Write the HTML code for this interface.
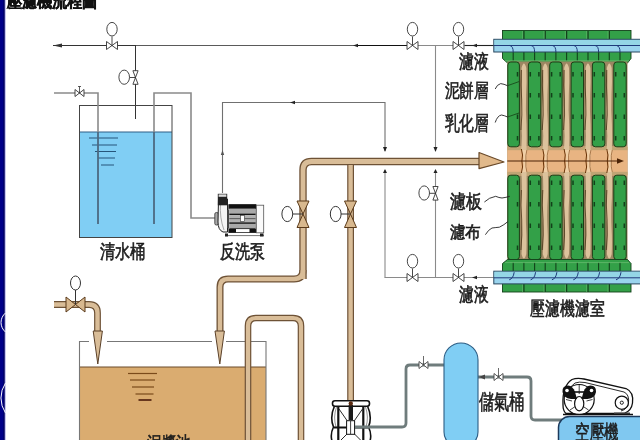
<!DOCTYPE html>
<html><head><meta charset="utf-8">
<style>
html,body{margin:0;padding:0;background:#fff;}
body{width:640px;height:440px;overflow:hidden;position:relative;font-family:"Liberation Sans",sans-serif;}
svg{position:absolute;left:0;top:0;filter:blur(0.3px);}
text{font-family:"Liberation Sans",sans-serif;fill:#1e1e1e;}
</style></head><body>
<svg width="640" height="440" viewBox="0 0 640 440">
<defs>
  <g id="vh"><!-- horizontal line valve, centered at 0,0 -->
    <path d="M-5.5,-4 L5.5,4 L5.5,-4 L-5.5,4 Z" fill="#fff" stroke="#333" stroke-width="0.9"/>
    <line x1="0" y1="0" x2="0" y2="-9" stroke="#333" stroke-width="0.9"/>
    <ellipse cx="0" cy="-16.3" rx="5.2" ry="6.8" fill="#fff" stroke="#333" stroke-width="0.9"/>
  </g>
  <g id="vv"><!-- vertical line valve, centered at 0,0, handwheel to left -->
    <path d="M-2.6,-6.8 L2.6,-6.8 L-2.6,6.8 L2.6,6.8 Z" fill="#fff" stroke="#333" stroke-width="0.9"/>
    <line x1="0" y1="0" x2="-6" y2="0" stroke="#333" stroke-width="0.9"/>
    <ellipse cx="-11.3" cy="-0.3" rx="5.3" ry="7.1" fill="#fff" stroke="#333" stroke-width="0.9"/>
  </g>
</defs>

<!-- left navy bar -->
<rect x="0" y="0" width="4.8" height="440" fill="#000088"/>
<rect x="3.4" y="0" width="1.4" height="440" fill="#00005e"/>
<rect x="4.8" y="0" width="1.2" height="440" fill="#c8c8f0"/>
<path d="M5.5,313 A12.3,12.3 0 0 0 5.5,332" fill="none" stroke="#fff" stroke-width="1"/>
<path d="M5.5,383 A27,27 0 0 0 5.5,413" fill="none" stroke="#fff" stroke-width="1"/>

<!-- title -->
<text x="6.5" y="6.6" font-size="15.5" font-weight="bold" textLength="91" lengthAdjust="spacingAndGlyphs" fill="#111" stroke="#111" stroke-width="0.5">壓濾機流程圖</text>

<!-- ===== thin lines ===== -->
<g fill="none" stroke="#1a1a1a" stroke-width="1">
  <line x1="53" y1="45.5" x2="136" y2="45.5" stroke="#333"/>
  <line x1="136" y1="45.5" x2="355" y2="45.5" stroke="#5a5a5a"/>
  <line x1="355" y1="45.5" x2="408" y2="45.5" stroke="#111"/>
  <line x1="135.5" y1="45.5" x2="135.5" y2="119" stroke="#333"/>
</g>
<g fill="none" stroke="#8a8a8a" stroke-width="1.1">
  <line x1="408" y1="45.5" x2="465" y2="45.5"/>
  <line x1="465" y1="45.5" x2="495" y2="45.5" stroke="#222"/>
  <polyline points="222.5,193 222.5,102.5 385,102.5 385,151" stroke="#707070"/>
  <line x1="435.5" y1="45.5" x2="435.5" y2="151"/>
  <line x1="385" y1="170" x2="385" y2="277.5"/>
  <line x1="435.5" y1="170" x2="435.5" y2="277.5"/>
  <line x1="384.5" y1="277.5" x2="495" y2="277.5"/>
</g>
<path d="M53,45.5 L62,43.5 L62,47.5 Z" fill="#333"/>

<use href="#vh" x="112" y="45.5"/>
<use href="#vh" x="412.5" y="45.5"/>
<use href="#vh" x="458.5" y="45.5"/>
<use href="#vh" x="412.5" y="277.5"/>
<use href="#vh" x="458.5" y="277.5"/>
<use href="#vv" x="135.5" y="77.5"/>
<use href="#vv" x="435.5" y="193.3"/>

<!-- ===== clear water tank ===== -->
<rect x="79.5" y="132" width="92.5" height="105.5" fill="#80cef4"/>
<line x1="79.5" y1="132" x2="172" y2="132" stroke="#2f5f86" stroke-width="1"/>
<rect x="79.5" y="105.5" width="92.5" height="132" fill="none" stroke="#444" stroke-width="1"/>
<g stroke="#26557a" stroke-width="1">
  <line x1="89" y1="138" x2="118" y2="138"/>
  <line x1="92" y1="145" x2="117" y2="145"/>
  <line x1="95" y1="151.5" x2="116" y2="151.5"/>
  <line x1="98" y1="158" x2="115" y2="158"/>
  <line x1="101" y1="165" x2="114" y2="165"/>
</g>
<!-- pipes into tank -->
<g fill="none" stroke="#8a8a8a" stroke-width="1.6">
  <polyline points="54,93 98,93 98,224"/>
  <polyline points="154,224 154,93 191,93 191,218 215,218"/>
</g>
<g stroke="#2c5a80" stroke-width="1.2">
  <line x1="98" y1="132" x2="98" y2="224"/>
  <line x1="154" y1="132" x2="154" y2="224"/>
</g>
<path d="M75,89.5 L84,96.5 L84,89.5 L75,96.5 Z" fill="#fff" stroke="#333" stroke-width="0.9"/>
<line x1="79.5" y1="93" x2="79.5" y2="86.5" stroke="#333" stroke-width="0.8"/>
<line x1="78" y1="86.5" x2="81" y2="86.5" stroke="#333" stroke-width="0.8"/>


<!-- ===== backwash pump ===== -->
<g>
  <rect x="214.8" y="212.5" width="3.6" height="12.5" rx="1.5" fill="#aaa" stroke="#333" stroke-width="0.8"/>
  <path d="M218.5,199 L227.5,199 L227.5,232 L223,232 Q218,230 218,222 Z" fill="#f4f4f4" stroke="#222" stroke-width="1"/>
  <path d="M220.5,203 Q219.5,218 224,230" fill="none" stroke="#888" stroke-width="0.7"/>
  <rect x="217.8" y="193.8" width="9.4" height="11.5" fill="#222"/>
  <rect x="218.6" y="194.4" width="7.8" height="2.4" fill="#ddd"/>
  <rect x="227.5" y="210" width="2" height="18" fill="#666"/>
  <rect x="228.8" y="204.6" width="27.2" height="28" fill="#fff" stroke="#222" stroke-width="0.8"/>
  <rect x="228.8" y="204.6" width="27.2" height="4.2" fill="#111"/>
  <rect x="229.3" y="208.8" width="26.2" height="5" fill="#a9a9a9"/>
  <rect x="229.3" y="213.6" width="26.2" height="1.5" fill="#151515"/>
  <rect x="229.3" y="215.1" width="26.2" height="7.2" fill="#b0b0b0"/>
  <rect x="229.3" y="218.3" width="26.2" height="0.8" fill="#444"/>
  <rect x="229.3" y="222.3" width="26.2" height="1.6" fill="#151515"/>
  <rect x="229.3" y="223.9" width="26.2" height="4" fill="#a9a9a9"/>
  <rect x="229.3" y="227.9" width="26.2" height="1.2" fill="#444"/>
  <rect x="229" y="229" width="7" height="3.6" fill="#111"/>
  <rect x="249.5" y="229" width="6.5" height="3.6" fill="#111"/>
  <rect x="240.5" y="215.5" width="4" height="6" fill="#fff" stroke="#333" stroke-width="0.6"/>
  <rect x="256.3" y="205.2" width="7.4" height="27.6" fill="#fafafa" stroke="#555" stroke-width="0.8"/>
  <line x1="225" y1="235.6" x2="264" y2="235.6" stroke="#777" stroke-width="1"/>
  <rect x="225" y="233.5" width="3" height="3" fill="#222"/>
  <rect x="260" y="233.5" width="3.5" height="3" fill="#222"/>
</g>
<!-- ===== slurry tank ===== -->
<rect x="79.5" y="367" width="186.5" height="80" fill="#daac70"/>
<line x1="79.5" y1="367" x2="266" y2="367" stroke="#6a4a2a" stroke-width="1"/>
<g fill="none" stroke="#777" stroke-width="1.1">
  <polyline points="79.5,440 79.5,341.5 89,341.5"/>
  <line x1="107" y1="341.5" x2="212" y2="341.5"/>
  <polyline points="226,341.5 266,341.5 266,440"/>
</g>
<g stroke="#7a4a1a" stroke-width="1.2">
  <line x1="128" y1="373.5" x2="157" y2="373.5"/>
  <line x1="130" y1="380" x2="155" y2="380"/>
  <line x1="132" y1="387" x2="154" y2="387"/>
  <line x1="135.5" y1="394" x2="153.5" y2="394"/>
  <line x1="138.5" y1="400" x2="151.5" y2="400" stroke="#4a1a0a" stroke-width="1.6"/>
</g>

<!-- ===== tan pipes ===== -->
<g fill="none" stroke-linecap="butt" stroke-linejoin="round">
  <g stroke="#6e5236">
    <path d="M303,279 L303,170 Q303,161.5 311.5,161.5 L480,161.5" stroke-width="7.4"/>
    <path d="M303,270 Q303,279 294,279 L228,279 Q220,279 220,287 L220,331" stroke-width="7"/>
    <path d="M350.6,161.5 L350.6,402" stroke-width="6.8"/>
    <path d="M248,440 L248,326 Q248,318 256,318 L293,318 Q301,318 301,326 L301,440" stroke-width="6.6"/>
    <path d="M54,304.5 L89,304.5 Q97.5,304.5 97.5,313 L97.5,331" stroke-width="6.8"/>
  </g>
  <g stroke="#d9bd98">
    <path d="M303,279 L303,170 Q303,161.5 311.5,161.5 L480,161.5" stroke-width="4.8"/>
    <path d="M303,270 Q303,279 294,279 L228,279 Q220,279 220,287 L220,331" stroke-width="4.4"/>
    <path d="M350.6,165 L350.6,402" stroke-width="4.4"/>
    <path d="M248,440 L248,326 Q248,318 256,318 L293,318 Q301,318 301,326 L301,440" stroke-width="4.2"/>
    <path d="M54,304.5 L89,304.5 Q97.5,304.5 97.5,313 L97.5,331" stroke-width="4.4"/>
  </g>
</g>
<!-- arrow heads -->
<path d="M479,152.5 L504,162 L479,168.7 Z" fill="#e1b98b" stroke="#6a4a2a" stroke-width="1.2" stroke-linejoin="round"/>
<path d="M215,331 L219.8,364 L224.4,331 Z" fill="#d9bd98" stroke="#5a4028" stroke-width="1"/>
<path d="M93.2,331 L97.8,364 L102.4,331 Z" fill="#d9bd98" stroke="#5a4028" stroke-width="1"/>

<!-- tan valves -->
<g stroke="#5a3a1a" stroke-width="1" fill="#d8b88e">
  <path d="M297,201 L309,201 L303,214 Z M297,227.5 L309,227.5 L303,214 Z"/>
  <path d="M344.5,201 L356.5,201 L350.5,214 Z M344.5,227.5 L356.5,227.5 L350.5,214 Z"/>
  <path d="M66,297 L66,312 L75.5,304.5 Z M85,297 L85,312 L75.5,304.5 Z"/>
</g>
<g fill="#fff" stroke="#333" stroke-width="1">
  <line x1="293" y1="214" x2="303" y2="214"/>
  <ellipse cx="287.3" cy="214" rx="5.4" ry="7.6"/>
  <line x1="341" y1="214" x2="350.5" y2="214"/>
  <ellipse cx="335.7" cy="214" rx="5.4" ry="7.6"/>
  <line x1="75.5" y1="304.5" x2="75.5" y2="290"/>
  <ellipse cx="75.5" cy="283" rx="5" ry="7"/>
</g>

<!-- ===== diaphragm pump ===== -->
<g fill="none" stroke="#111">
  <path d="M334.5,406 Q329.5,417 333.5,427 Q330,434 332,441" stroke-width="1.6"/>
  <path d="M367.5,406 Q372.5,417 368.5,427 Q372,434 370,441" stroke-width="1.6"/>
  <path d="M336.5,407 Q333,417 336,427" stroke="#777" stroke-width="0.8"/>
  <path d="M365.5,407 Q369,417 366,427" stroke="#777" stroke-width="0.8"/>
  <line x1="338.3" y1="407" x2="338.3" y2="441" stroke-width="2.2"/>
  <line x1="363.3" y1="407" x2="363.3" y2="441" stroke-width="2.2"/>
  <path d="M339,409 L347,420.5 M362.5,409 L354.5,420.5 M347,434 L340,441 M354.5,434 L361.5,441" stroke-width="0.9"/>
  <rect x="332.5" y="400.7" width="37" height="5.6" rx="2.5" fill="#fff" stroke-width="1.6"/>
  <rect x="348.6" y="405" width="4.4" height="15" fill="#1a1a1a" stroke="none"/>
  <circle cx="350.8" cy="403.5" r="2.2" fill="#5a2a10" stroke="none"/>
  <line x1="334" y1="427.5" x2="368" y2="427.5" stroke-width="2.2"/>
  <rect x="346.6" y="420.7" width="8" height="13.6" fill="#fff" stroke-width="1"/>
  <line x1="350.6" y1="421" x2="350.6" y2="434" stroke-width="0.8"/>
</g>
<!-- ===== air lines ===== -->
<g fill="none" stroke="#6f7c7c" stroke-width="2.8">
  <path d="M355,427 L402,427 Q406,427 406,423 L406,369 Q406,365 410,365 L444,365"/>
  <path d="M478,377 L527,377 Q531,377 531,381 L531,416 Q531,420 535,420 L562,420"/>
</g>
<path d="M419,361.5 L428,368.5 L428,361.5 L419,368.5 Z" fill="#fff" stroke="#444" stroke-width="0.9"/>
<line x1="423.5" y1="365" x2="423.5" y2="356" stroke="#444" stroke-width="0.8"/>
<path d="M494,373.5 L503,380.5 L503,373.5 L494,380.5 Z" fill="#fff" stroke="#444" stroke-width="0.9"/>
<line x1="498.5" y1="377" x2="498.5" y2="368" stroke="#444" stroke-width="0.8"/>
<path d="M479,377 L485,374.5 L485,379.5 Z" fill="#444"/>

<!-- air tank -->
<path d="M444,432 L444,360 A17,17 0 0 1 478,360 L478,432 Q478,445 461,447 Q444,445 444,432 Z" fill="#80cef4" stroke="#2d5d84" stroke-width="1.1"/>

<!-- compressor -->
<g fill="none" stroke="#111">
  <path d="M563,405 Q562,386 572,379.5 Q577,377.5 584,379 L626,388.5 Q634,392 632.5,403 Q631.5,411 624,413.5 L566,413.5 Q563,411 563,405 Z" fill="#fff" stroke-width="1.3"/>
  <path d="M566.5,404 Q566,389 575,383 Q579,381.5 585,382.5 L624,392 Q629.5,394.5 628.5,403 Q627.5,409 621,411" stroke-width="0.9"/>
  <circle cx="579.2" cy="399.5" r="15" fill="#fff" stroke-width="1.2"/>
  <ellipse cx="579.2" cy="403.7" rx="4.6" ry="7.2" stroke-width="1.2"/>
  <path d="M579.2,385 L579.2,394 M566,399.5 L572,401 M592.5,399.5 L586.5,401 M570,410 L574.5,407 M588.5,410 L584,407" stroke-width="0.8"/>
  <path d="M562.5,392 Q562,385.5 568,385.5 Q573,386 575,392 L577,399 L571,399 Q563.5,398 562.5,392 Z" fill="#111" stroke="none"/>
  <path d="M596,392 Q596.5,385.5 590.5,385.5 Q585.5,386 583.5,392 L581.5,399 L587.5,399 Q595,398 596,392 Z" fill="#111" stroke="none"/>
  <circle cx="567" cy="390.5" r="1.8" fill="#fff" stroke="none"/>
  <circle cx="591.5" cy="390.5" r="1.8" fill="#fff" stroke="none"/>
  <path d="M572,392 L586,392" stroke-width="1.6"/>
  <circle cx="621.8" cy="402.7" r="6.6" fill="#fff" stroke-width="1.2"/>
  <circle cx="621.8" cy="402.7" r="1.6" stroke-width="0.9"/>
  <path d="M614,412.5 L630,412.5 L630,414.5 L614,414.5 Z" fill="#444" stroke="none"/>
  <line x1="563" y1="414.5" x2="633" y2="414.5" stroke-width="1.4"/>
</g>
<rect x="558.5" y="416.5" width="100" height="40" rx="11" fill="#80c8f0" stroke="#1c3a5c" stroke-width="1.5"/>
<!--PRESS-->
<g id="press">
<rect x="502.5" y="30.5" width="128.5" height="9" fill="#33a048" stroke="#12401a" stroke-width="0.9"/>
<line x1="523.9" y1="31" x2="523.9" y2="39" stroke="#12401a" stroke-width="1.3"/>
<line x1="522.6" y1="31" x2="522.6" y2="39" stroke="#62b86a" stroke-width="0.7"/>
<line x1="545.2" y1="31" x2="545.2" y2="39" stroke="#12401a" stroke-width="1.3"/>
<line x1="544.0" y1="31" x2="544.0" y2="39" stroke="#62b86a" stroke-width="0.7"/>
<line x1="566.6" y1="31" x2="566.6" y2="39" stroke="#12401a" stroke-width="1.3"/>
<line x1="565.3" y1="31" x2="565.3" y2="39" stroke="#62b86a" stroke-width="0.7"/>
<line x1="588.0" y1="31" x2="588.0" y2="39" stroke="#12401a" stroke-width="1.3"/>
<line x1="586.7" y1="31" x2="586.7" y2="39" stroke="#62b86a" stroke-width="0.7"/>
<line x1="609.3" y1="31" x2="609.3" y2="39" stroke="#12401a" stroke-width="1.3"/>
<line x1="608.0" y1="31" x2="608.0" y2="39" stroke="#62b86a" stroke-width="0.7"/>
<path d="M502.5,51.5 L631,51.5 L631,58.5 L627.5,63 L507.5,63 L502.5,58.5 Z" fill="#33a048" stroke="#12401a" stroke-width="0.9"/>
<line x1="523.9" y1="52" x2="523.9" y2="61" stroke="#12401a" stroke-width="1.1"/>
<line x1="545.2" y1="52" x2="545.2" y2="61" stroke="#12401a" stroke-width="1.1"/>
<line x1="566.6" y1="52" x2="566.6" y2="61" stroke="#12401a" stroke-width="1.1"/>
<line x1="588.0" y1="52" x2="588.0" y2="61" stroke="#12401a" stroke-width="1.1"/>
<line x1="609.3" y1="52" x2="609.3" y2="61" stroke="#12401a" stroke-width="1.1"/>
<line x1="513.2" y1="52" x2="513.2" y2="61" stroke="#12401a" stroke-width="1.1"/>
<line x1="534.6" y1="52" x2="534.6" y2="61" stroke="#12401a" stroke-width="1.1"/>
<line x1="555.9" y1="52" x2="555.9" y2="61" stroke="#12401a" stroke-width="1.1"/>
<line x1="577.3" y1="52" x2="577.3" y2="61" stroke="#12401a" stroke-width="1.1"/>
<line x1="598.6" y1="52" x2="598.6" y2="61" stroke="#12401a" stroke-width="1.1"/>
<line x1="620.0" y1="52" x2="620.0" y2="61" stroke="#12401a" stroke-width="1.1"/>
<line x1="505" y1="60.8" x2="629" y2="60.8" stroke="#62b86a" stroke-width="0.9"/>
<rect x="507.3" y="61.5" width="120.2" height="198.5" fill="#9c8662"/>
<rect x="507.3" y="146.5" width="120.2" height="29" fill="#e8b482"/>
<rect x="507.3" y="147" width="120.2" height="3.2" fill="#c0a474"/>
<rect x="507.3" y="171.8" width="120.2" height="3.2" fill="#c0a474"/>
<path d="M521.3,150 Q522.5,135 521.3,122 Q520.6999999999999,108 521.9,95 Q522.3,80 521.5,68 Q523.9,59 526.3,68 Q526.9,82 526.1,95 Q525.5,110 526.5,124 Q526.9,138 526.5,150 Z" fill="#dcc29c"/>
<path d="M521.3,172 Q522.5,187 521.3,200 Q520.6999999999999,214 521.9,227 Q522.3,242 521.5,254 Q523.9,263 526.3,254 Q526.9,240 526.1,227 Q525.5,212 526.5,198 Q526.9,184 526.5,172 Z" fill="#dcc29c"/>
<path d="M521.4,70 Q520.4,85 521.6999999999999,100 Q522.4,115 520.9,130" fill="none" stroke="#4a3418" stroke-width="0.8"/>
<path d="M521.4,190 Q520.4,205 521.6999999999999,220 Q522.4,235 520.9,250" fill="none" stroke="#4a3418" stroke-width="0.8"/>
<path d="M520.9,150 Q524.4,155 523.1,161 Q524.4,167 520.9,172 L527.4,172 Q526.4,167 526.4,161 Q526.4,155 527.4,150 Z" fill="#f0cfa6"/>
<path d="M521.4,149 Q523.4,155 521.9,161 Q523.4,167 521.4,173" fill="none" stroke="#6a3408" stroke-width="1"/>
<path d="M526.9,150 Q525.4,155 525.9,161 Q525.4,167 526.9,172" fill="none" stroke="#8a5020" stroke-width="0.7"/>
<path d="M542.65,150 Q543.85,135 542.65,122 Q542.05,108 543.25,95 Q543.65,80 542.85,68 Q545.25,59 547.65,68 Q548.25,82 547.45,95 Q546.85,110 547.85,124 Q548.25,138 547.85,150 Z" fill="#dcc29c"/>
<path d="M542.65,172 Q543.85,187 542.65,200 Q542.05,214 543.25,227 Q543.65,242 542.85,254 Q545.25,263 547.65,254 Q548.25,240 547.45,227 Q546.85,212 547.85,198 Q548.25,184 547.85,172 Z" fill="#dcc29c"/>
<path d="M542.75,70 Q541.75,85 543.05,100 Q543.75,115 542.25,130" fill="none" stroke="#4a3418" stroke-width="0.8"/>
<path d="M542.75,190 Q541.75,205 543.05,220 Q543.75,235 542.25,250" fill="none" stroke="#4a3418" stroke-width="0.8"/>
<path d="M542.25,150 Q545.75,155 544.45,161 Q545.75,167 542.25,172 L548.75,172 Q547.75,167 547.75,161 Q547.75,155 548.75,150 Z" fill="#f0cfa6"/>
<path d="M542.75,149 Q544.75,155 543.25,161 Q544.75,167 542.75,173" fill="none" stroke="#6a3408" stroke-width="1"/>
<path d="M548.25,150 Q546.75,155 547.25,161 Q546.75,167 548.25,172" fill="none" stroke="#8a5020" stroke-width="0.7"/>
<path d="M564.0,150 Q565.2,135 564.0,122 Q563.4,108 564.6,95 Q565.0,80 564.2,68 Q566.6,59 569.0,68 Q569.6,82 568.8000000000001,95 Q568.2,110 569.2,124 Q569.6,138 569.2,150 Z" fill="#dcc29c"/>
<path d="M564.0,172 Q565.2,187 564.0,200 Q563.4,214 564.6,227 Q565.0,242 564.2,254 Q566.6,263 569.0,254 Q569.6,240 568.8000000000001,227 Q568.2,212 569.2,198 Q569.6,184 569.2,172 Z" fill="#dcc29c"/>
<path d="M564.1,70 Q563.1,85 564.4,100 Q565.1,115 563.6,130" fill="none" stroke="#4a3418" stroke-width="0.8"/>
<path d="M564.1,190 Q563.1,205 564.4,220 Q565.1,235 563.6,250" fill="none" stroke="#4a3418" stroke-width="0.8"/>
<path d="M563.6,150 Q567.1,155 565.8000000000001,161 Q567.1,167 563.6,172 L570.1,172 Q569.1,167 569.1,161 Q569.1,155 570.1,150 Z" fill="#f0cfa6"/>
<path d="M564.1,149 Q566.1,155 564.6,161 Q566.1,167 564.1,173" fill="none" stroke="#6a3408" stroke-width="1"/>
<path d="M569.6,150 Q568.1,155 568.6,161 Q568.1,167 569.6,172" fill="none" stroke="#8a5020" stroke-width="0.7"/>
<path d="M585.35,150 Q586.5500000000001,135 585.35,122 Q584.75,108 585.95,95 Q586.35,80 585.5500000000001,68 Q587.95,59 590.35,68 Q590.95,82 590.1500000000001,95 Q589.5500000000001,110 590.5500000000001,124 Q590.95,138 590.5500000000001,150 Z" fill="#dcc29c"/>
<path d="M585.35,172 Q586.5500000000001,187 585.35,200 Q584.75,214 585.95,227 Q586.35,242 585.5500000000001,254 Q587.95,263 590.35,254 Q590.95,240 590.1500000000001,227 Q589.5500000000001,212 590.5500000000001,198 Q590.95,184 590.5500000000001,172 Z" fill="#dcc29c"/>
<path d="M585.45,70 Q584.45,85 585.75,100 Q586.45,115 584.95,130" fill="none" stroke="#4a3418" stroke-width="0.8"/>
<path d="M585.45,190 Q584.45,205 585.75,220 Q586.45,235 584.95,250" fill="none" stroke="#4a3418" stroke-width="0.8"/>
<path d="M584.95,150 Q588.45,155 587.1500000000001,161 Q588.45,167 584.95,172 L591.45,172 Q590.45,167 590.45,161 Q590.45,155 591.45,150 Z" fill="#f0cfa6"/>
<path d="M585.45,149 Q587.45,155 585.95,161 Q587.45,167 585.45,173" fill="none" stroke="#6a3408" stroke-width="1"/>
<path d="M590.95,150 Q589.45,155 589.95,161 Q589.45,167 590.95,172" fill="none" stroke="#8a5020" stroke-width="0.7"/>
<path d="M606.6999999999999,150 Q607.9,135 606.6999999999999,122 Q606.0999999999999,108 607.3,95 Q607.6999999999999,80 606.9,68 Q609.3,59 611.6999999999999,68 Q612.3,82 611.5,95 Q610.9,110 611.9,124 Q612.3,138 611.9,150 Z" fill="#dcc29c"/>
<path d="M606.6999999999999,172 Q607.9,187 606.6999999999999,200 Q606.0999999999999,214 607.3,227 Q607.6999999999999,242 606.9,254 Q609.3,263 611.6999999999999,254 Q612.3,240 611.5,227 Q610.9,212 611.9,198 Q612.3,184 611.9,172 Z" fill="#dcc29c"/>
<path d="M606.8,70 Q605.8,85 607.0999999999999,100 Q607.8,115 606.3,130" fill="none" stroke="#4a3418" stroke-width="0.8"/>
<path d="M606.8,190 Q605.8,205 607.0999999999999,220 Q607.8,235 606.3,250" fill="none" stroke="#4a3418" stroke-width="0.8"/>
<path d="M606.3,150 Q609.8,155 608.5,161 Q609.8,167 606.3,172 L612.8,172 Q611.8,167 611.8,161 Q611.8,155 612.8,150 Z" fill="#f0cfa6"/>
<path d="M606.8,149 Q608.8,155 607.3,161 Q608.8,167 606.8,173" fill="none" stroke="#6a3408" stroke-width="1"/>
<path d="M612.3,150 Q610.8,155 611.3,161 Q610.8,167 612.3,172" fill="none" stroke="#8a5020" stroke-width="0.7"/>
<rect x="507.8" y="62" width="11.6" height="84.8" rx="3" fill="#33a048" stroke="#1c3e16" stroke-width="1"/>
<rect x="507.8" y="175.2" width="11.6" height="84.4" rx="3" fill="#33a048" stroke="#1c3e16" stroke-width="1"/>
<line x1="517.5" y1="72" x2="517.5" y2="76.5" stroke="#12401a" stroke-width="1.5"/>
<line x1="517.5" y1="93" x2="517.5" y2="97.5" stroke="#12401a" stroke-width="1.5"/>
<line x1="517.5" y1="114.5" x2="517.5" y2="119.0" stroke="#12401a" stroke-width="1.5"/>
<line x1="517.5" y1="136" x2="517.5" y2="140.5" stroke="#12401a" stroke-width="1.5"/>
<line x1="517.5" y1="180.5" x2="517.5" y2="185.0" stroke="#12401a" stroke-width="1.5"/>
<line x1="517.5" y1="202" x2="517.5" y2="206.5" stroke="#12401a" stroke-width="1.5"/>
<line x1="517.5" y1="223.5" x2="517.5" y2="228.0" stroke="#12401a" stroke-width="1.5"/>
<line x1="517.5" y1="245.5" x2="517.5" y2="250.0" stroke="#12401a" stroke-width="1.5"/>
<rect x="528.4" y="62" width="12.4" height="84.8" rx="3" fill="#33a048" stroke="#1c3e16" stroke-width="1"/>
<rect x="528.4" y="175.2" width="12.4" height="84.4" rx="3" fill="#33a048" stroke="#1c3e16" stroke-width="1"/>
<line x1="530.3" y1="72" x2="530.3" y2="76.5" stroke="#12401a" stroke-width="1.5"/>
<line x1="530.3" y1="93" x2="530.3" y2="97.5" stroke="#12401a" stroke-width="1.5"/>
<line x1="530.3" y1="114.5" x2="530.3" y2="119.0" stroke="#12401a" stroke-width="1.5"/>
<line x1="530.3" y1="136" x2="530.3" y2="140.5" stroke="#12401a" stroke-width="1.5"/>
<line x1="530.3" y1="180.5" x2="530.3" y2="185.0" stroke="#12401a" stroke-width="1.5"/>
<line x1="530.3" y1="202" x2="530.3" y2="206.5" stroke="#12401a" stroke-width="1.5"/>
<line x1="530.3" y1="223.5" x2="530.3" y2="228.0" stroke="#12401a" stroke-width="1.5"/>
<line x1="530.3" y1="245.5" x2="530.3" y2="250.0" stroke="#12401a" stroke-width="1.5"/>
<line x1="538.9" y1="72" x2="538.9" y2="76.5" stroke="#12401a" stroke-width="1.5"/>
<line x1="538.9" y1="93" x2="538.9" y2="97.5" stroke="#12401a" stroke-width="1.5"/>
<line x1="538.9" y1="114.5" x2="538.9" y2="119.0" stroke="#12401a" stroke-width="1.5"/>
<line x1="538.9" y1="136" x2="538.9" y2="140.5" stroke="#12401a" stroke-width="1.5"/>
<line x1="538.9" y1="180.5" x2="538.9" y2="185.0" stroke="#12401a" stroke-width="1.5"/>
<line x1="538.9" y1="202" x2="538.9" y2="206.5" stroke="#12401a" stroke-width="1.5"/>
<line x1="538.9" y1="223.5" x2="538.9" y2="228.0" stroke="#12401a" stroke-width="1.5"/>
<line x1="538.9" y1="245.5" x2="538.9" y2="250.0" stroke="#12401a" stroke-width="1.5"/>
<rect x="549.7" y="62" width="12.4" height="84.8" rx="3" fill="#33a048" stroke="#1c3e16" stroke-width="1"/>
<rect x="549.7" y="175.2" width="12.4" height="84.4" rx="3" fill="#33a048" stroke="#1c3e16" stroke-width="1"/>
<line x1="551.6" y1="72" x2="551.6" y2="76.5" stroke="#12401a" stroke-width="1.5"/>
<line x1="551.6" y1="93" x2="551.6" y2="97.5" stroke="#12401a" stroke-width="1.5"/>
<line x1="551.6" y1="114.5" x2="551.6" y2="119.0" stroke="#12401a" stroke-width="1.5"/>
<line x1="551.6" y1="136" x2="551.6" y2="140.5" stroke="#12401a" stroke-width="1.5"/>
<line x1="551.6" y1="180.5" x2="551.6" y2="185.0" stroke="#12401a" stroke-width="1.5"/>
<line x1="551.6" y1="202" x2="551.6" y2="206.5" stroke="#12401a" stroke-width="1.5"/>
<line x1="551.6" y1="223.5" x2="551.6" y2="228.0" stroke="#12401a" stroke-width="1.5"/>
<line x1="551.6" y1="245.5" x2="551.6" y2="250.0" stroke="#12401a" stroke-width="1.5"/>
<line x1="560.2" y1="72" x2="560.2" y2="76.5" stroke="#12401a" stroke-width="1.5"/>
<line x1="560.2" y1="93" x2="560.2" y2="97.5" stroke="#12401a" stroke-width="1.5"/>
<line x1="560.2" y1="114.5" x2="560.2" y2="119.0" stroke="#12401a" stroke-width="1.5"/>
<line x1="560.2" y1="136" x2="560.2" y2="140.5" stroke="#12401a" stroke-width="1.5"/>
<line x1="560.2" y1="180.5" x2="560.2" y2="185.0" stroke="#12401a" stroke-width="1.5"/>
<line x1="560.2" y1="202" x2="560.2" y2="206.5" stroke="#12401a" stroke-width="1.5"/>
<line x1="560.2" y1="223.5" x2="560.2" y2="228.0" stroke="#12401a" stroke-width="1.5"/>
<line x1="560.2" y1="245.5" x2="560.2" y2="250.0" stroke="#12401a" stroke-width="1.5"/>
<rect x="571.1" y="62" width="12.4" height="84.8" rx="3" fill="#33a048" stroke="#1c3e16" stroke-width="1"/>
<rect x="571.1" y="175.2" width="12.4" height="84.4" rx="3" fill="#33a048" stroke="#1c3e16" stroke-width="1"/>
<line x1="573.0" y1="72" x2="573.0" y2="76.5" stroke="#12401a" stroke-width="1.5"/>
<line x1="573.0" y1="93" x2="573.0" y2="97.5" stroke="#12401a" stroke-width="1.5"/>
<line x1="573.0" y1="114.5" x2="573.0" y2="119.0" stroke="#12401a" stroke-width="1.5"/>
<line x1="573.0" y1="136" x2="573.0" y2="140.5" stroke="#12401a" stroke-width="1.5"/>
<line x1="573.0" y1="180.5" x2="573.0" y2="185.0" stroke="#12401a" stroke-width="1.5"/>
<line x1="573.0" y1="202" x2="573.0" y2="206.5" stroke="#12401a" stroke-width="1.5"/>
<line x1="573.0" y1="223.5" x2="573.0" y2="228.0" stroke="#12401a" stroke-width="1.5"/>
<line x1="573.0" y1="245.5" x2="573.0" y2="250.0" stroke="#12401a" stroke-width="1.5"/>
<line x1="581.6" y1="72" x2="581.6" y2="76.5" stroke="#12401a" stroke-width="1.5"/>
<line x1="581.6" y1="93" x2="581.6" y2="97.5" stroke="#12401a" stroke-width="1.5"/>
<line x1="581.6" y1="114.5" x2="581.6" y2="119.0" stroke="#12401a" stroke-width="1.5"/>
<line x1="581.6" y1="136" x2="581.6" y2="140.5" stroke="#12401a" stroke-width="1.5"/>
<line x1="581.6" y1="180.5" x2="581.6" y2="185.0" stroke="#12401a" stroke-width="1.5"/>
<line x1="581.6" y1="202" x2="581.6" y2="206.5" stroke="#12401a" stroke-width="1.5"/>
<line x1="581.6" y1="223.5" x2="581.6" y2="228.0" stroke="#12401a" stroke-width="1.5"/>
<line x1="581.6" y1="245.5" x2="581.6" y2="250.0" stroke="#12401a" stroke-width="1.5"/>
<rect x="592.4" y="62" width="12.4" height="84.8" rx="3" fill="#33a048" stroke="#1c3e16" stroke-width="1"/>
<rect x="592.4" y="175.2" width="12.4" height="84.4" rx="3" fill="#33a048" stroke="#1c3e16" stroke-width="1"/>
<line x1="594.3" y1="72" x2="594.3" y2="76.5" stroke="#12401a" stroke-width="1.5"/>
<line x1="594.3" y1="93" x2="594.3" y2="97.5" stroke="#12401a" stroke-width="1.5"/>
<line x1="594.3" y1="114.5" x2="594.3" y2="119.0" stroke="#12401a" stroke-width="1.5"/>
<line x1="594.3" y1="136" x2="594.3" y2="140.5" stroke="#12401a" stroke-width="1.5"/>
<line x1="594.3" y1="180.5" x2="594.3" y2="185.0" stroke="#12401a" stroke-width="1.5"/>
<line x1="594.3" y1="202" x2="594.3" y2="206.5" stroke="#12401a" stroke-width="1.5"/>
<line x1="594.3" y1="223.5" x2="594.3" y2="228.0" stroke="#12401a" stroke-width="1.5"/>
<line x1="594.3" y1="245.5" x2="594.3" y2="250.0" stroke="#12401a" stroke-width="1.5"/>
<line x1="602.9" y1="72" x2="602.9" y2="76.5" stroke="#12401a" stroke-width="1.5"/>
<line x1="602.9" y1="93" x2="602.9" y2="97.5" stroke="#12401a" stroke-width="1.5"/>
<line x1="602.9" y1="114.5" x2="602.9" y2="119.0" stroke="#12401a" stroke-width="1.5"/>
<line x1="602.9" y1="136" x2="602.9" y2="140.5" stroke="#12401a" stroke-width="1.5"/>
<line x1="602.9" y1="180.5" x2="602.9" y2="185.0" stroke="#12401a" stroke-width="1.5"/>
<line x1="602.9" y1="202" x2="602.9" y2="206.5" stroke="#12401a" stroke-width="1.5"/>
<line x1="602.9" y1="223.5" x2="602.9" y2="228.0" stroke="#12401a" stroke-width="1.5"/>
<line x1="602.9" y1="245.5" x2="602.9" y2="250.0" stroke="#12401a" stroke-width="1.5"/>
<rect x="613.8" y="62" width="12.4" height="84.8" rx="3" fill="#33a048" stroke="#1c3e16" stroke-width="1"/>
<rect x="613.8" y="175.2" width="12.4" height="84.4" rx="3" fill="#33a048" stroke="#1c3e16" stroke-width="1"/>
<line x1="615.7" y1="72" x2="615.7" y2="76.5" stroke="#12401a" stroke-width="1.5"/>
<line x1="615.7" y1="93" x2="615.7" y2="97.5" stroke="#12401a" stroke-width="1.5"/>
<line x1="615.7" y1="114.5" x2="615.7" y2="119.0" stroke="#12401a" stroke-width="1.5"/>
<line x1="615.7" y1="136" x2="615.7" y2="140.5" stroke="#12401a" stroke-width="1.5"/>
<line x1="615.7" y1="180.5" x2="615.7" y2="185.0" stroke="#12401a" stroke-width="1.5"/>
<line x1="615.7" y1="202" x2="615.7" y2="206.5" stroke="#12401a" stroke-width="1.5"/>
<line x1="615.7" y1="223.5" x2="615.7" y2="228.0" stroke="#12401a" stroke-width="1.5"/>
<line x1="615.7" y1="245.5" x2="615.7" y2="250.0" stroke="#12401a" stroke-width="1.5"/>
<line x1="624.3" y1="72" x2="624.3" y2="76.5" stroke="#12401a" stroke-width="1.5"/>
<line x1="624.3" y1="93" x2="624.3" y2="97.5" stroke="#12401a" stroke-width="1.5"/>
<line x1="624.3" y1="114.5" x2="624.3" y2="119.0" stroke="#12401a" stroke-width="1.5"/>
<line x1="624.3" y1="136" x2="624.3" y2="140.5" stroke="#12401a" stroke-width="1.5"/>
<line x1="624.3" y1="180.5" x2="624.3" y2="185.0" stroke="#12401a" stroke-width="1.5"/>
<line x1="624.3" y1="202" x2="624.3" y2="206.5" stroke="#12401a" stroke-width="1.5"/>
<line x1="624.3" y1="223.5" x2="624.3" y2="228.0" stroke="#12401a" stroke-width="1.5"/>
<line x1="624.3" y1="245.5" x2="624.3" y2="250.0" stroke="#12401a" stroke-width="1.5"/>
<line x1="507.3" y1="161" x2="619" y2="161" stroke="#4a2206" stroke-width="1.2"/>
<path d="M624,161 L617,158.3 L617,163.7 Z" fill="#4a2206"/>
<path d="M507.5,259.5 L627.5,259.5 L631,263.5 L631,271.5 L502.5,271.5 L502.5,263.5 Z" fill="#33a048" stroke="#12401a" stroke-width="0.9"/>
<line x1="523.9" y1="262" x2="523.9" y2="271" stroke="#12401a" stroke-width="1.1"/>
<line x1="545.2" y1="262" x2="545.2" y2="271" stroke="#12401a" stroke-width="1.1"/>
<line x1="566.6" y1="262" x2="566.6" y2="271" stroke="#12401a" stroke-width="1.1"/>
<line x1="588.0" y1="262" x2="588.0" y2="271" stroke="#12401a" stroke-width="1.1"/>
<line x1="609.3" y1="262" x2="609.3" y2="271" stroke="#12401a" stroke-width="1.1"/>
<line x1="513.2" y1="262" x2="513.2" y2="271" stroke="#12401a" stroke-width="1.1"/>
<line x1="534.6" y1="262" x2="534.6" y2="271" stroke="#12401a" stroke-width="1.1"/>
<line x1="555.9" y1="262" x2="555.9" y2="271" stroke="#12401a" stroke-width="1.1"/>
<line x1="577.3" y1="262" x2="577.3" y2="271" stroke="#12401a" stroke-width="1.1"/>
<line x1="598.6" y1="262" x2="598.6" y2="271" stroke="#12401a" stroke-width="1.1"/>
<line x1="620.0" y1="262" x2="620.0" y2="271" stroke="#12401a" stroke-width="1.1"/>
<line x1="505" y1="262.6" x2="629" y2="262.6" stroke="#62b86a" stroke-width="0.9"/>
<rect x="502.5" y="283.5" width="128.5" height="8.5" fill="#33a048" stroke="#12401a" stroke-width="0.9"/>
<line x1="523.9" y1="284" x2="523.9" y2="292" stroke="#12401a" stroke-width="1.3"/>
<line x1="522.6" y1="284" x2="522.6" y2="292" stroke="#62b86a" stroke-width="0.7"/>
<line x1="545.2" y1="284" x2="545.2" y2="292" stroke="#12401a" stroke-width="1.3"/>
<line x1="544.0" y1="284" x2="544.0" y2="292" stroke="#62b86a" stroke-width="0.7"/>
<line x1="566.6" y1="284" x2="566.6" y2="292" stroke="#12401a" stroke-width="1.3"/>
<line x1="565.3" y1="284" x2="565.3" y2="292" stroke="#62b86a" stroke-width="0.7"/>
<line x1="588.0" y1="284" x2="588.0" y2="292" stroke="#12401a" stroke-width="1.3"/>
<line x1="586.7" y1="284" x2="586.7" y2="292" stroke="#62b86a" stroke-width="0.7"/>
<line x1="609.3" y1="284" x2="609.3" y2="292" stroke="#12401a" stroke-width="1.3"/>
<line x1="608.0" y1="284" x2="608.0" y2="292" stroke="#62b86a" stroke-width="0.7"/>
<rect x="493.8" y="39.3" width="150" height="12.7" fill="#9ad4ee" stroke="#28465e" stroke-width="1"/>
<rect x="494.4" y="39.9" width="150" height="5.4" fill="#94d6e6"/>
<line x1="494" y1="45.5" x2="640" y2="45.5" stroke="#1e3a7a" stroke-width="1"/>
<path d="M509.7,45.5 Q513.2,46.0 513.2,52.0" fill="none" stroke="#1e3a7a" stroke-width="1"/>
<path d="M531.1,45.5 Q534.6,46.0 534.6,52.0" fill="none" stroke="#1e3a7a" stroke-width="1"/>
<path d="M552.4,45.5 Q555.9,46.0 555.9,52.0" fill="none" stroke="#1e3a7a" stroke-width="1"/>
<path d="M573.8,45.5 Q577.3,46.0 577.3,52.0" fill="none" stroke="#1e3a7a" stroke-width="1"/>
<path d="M595.1,45.5 Q598.6,46.0 598.6,52.0" fill="none" stroke="#1e3a7a" stroke-width="1"/>
<path d="M616.5,45.5 Q620.0,46.0 620.0,52.0" fill="none" stroke="#1e3a7a" stroke-width="1"/>
<rect x="493.8" y="271.2" width="150" height="12.7" fill="#9ad4ee" stroke="#28465e" stroke-width="1"/>
<rect x="494.4" y="271.8" width="150" height="5.4" fill="#94d6e6"/>
<line x1="494" y1="277.8" x2="640" y2="277.8" stroke="#1e3a7a" stroke-width="1"/>
<path d="M509.2,279.8 Q513.2,278.8 514.2,272.2" fill="none" stroke="#1e3a7a" stroke-width="1"/>
<path d="M530.6,279.8 Q534.6,278.8 535.6,272.2" fill="none" stroke="#1e3a7a" stroke-width="1"/>
<path d="M551.9,279.8 Q555.9,278.8 556.9,272.2" fill="none" stroke="#1e3a7a" stroke-width="1"/>
<path d="M573.3,279.8 Q577.3,278.8 578.3,272.2" fill="none" stroke="#1e3a7a" stroke-width="1"/>
<path d="M594.6,279.8 Q598.6,278.8 599.6,272.2" fill="none" stroke="#1e3a7a" stroke-width="1"/>
<path d="M616.0,279.8 Q620.0,278.8 621.0,272.2" fill="none" stroke="#1e3a7a" stroke-width="1"/>
</g>
<!--/PRESS-->
<!-- leader lines -->
<g fill="none" stroke="#222" stroke-width="0.9">
  <path d="M495.2,89 Q497,84.5 500.7,83.6 Q504,84 507.5,85.7"/>
  <path d="M495.2,122.5 Q497.5,115.5 501.5,115 Q504.5,115.5 507.5,117"/>
  <path d="M484.4,202 Q489,197.5 495.7,196.3 Q499,197.8 502,198 Q506,197.5 509.8,196.3"/>
  <path d="M485.4,234.7 Q488.5,229.5 492,228 Q496,227.5 499.4,227.2 Q504,225 507.9,221.6"/>
</g>
<g fill="none" stroke="#1a4a1c" stroke-width="0.9">
  <path d="M507.5,85.7 L519,81.6"/>
  <path d="M507.5,117 L519,113"/>
</g>
<!-- small arrow marks -->
<g fill="#222">
  <path d="M472,45.5 L477,43.8 L477,47.2 Z"/>
  <path d="M353,45.5 L358,43.8 L358,47.2 Z"/>
  <path d="M472,277.5 L477,275.8 L477,279.2 Z"/>
  <path d="M290,102.5 L295,100.8 L295,104.2 Z"/>
  <path d="M222.5,150 L220.8,155 L224.2,155 Z" fill="#555"/>
  <path d="M385,152 L383,147 L387,147 Z"/>
  <path d="M435.5,152 L433.5,147 L437.5,147 Z"/>
  <path d="M385,169 L383,173 L387,173 Z"/>
  <path d="M435.5,169 L433.5,173 L437.5,173 Z"/>
</g>
<!--LABELS-->
<text x="458.8" y="68.4" font-size="18.5" textLength="29.9" stroke="#1a1a1a" stroke-width="0.6" lengthAdjust="spacingAndGlyphs">濾液</text>
<text x="444.5" y="96.9" font-size="18.5" textLength="44.2" stroke="#1a1a1a" stroke-width="0.6" lengthAdjust="spacingAndGlyphs">泥餅層</text>
<text x="444.5" y="129.8" font-size="19.9" textLength="44.2" stroke="#1a1a1a" stroke-width="0.6" lengthAdjust="spacingAndGlyphs">乳化層</text>
<text x="449.6" y="208.2" font-size="19.3" textLength="32.1" stroke="#1a1a1a" stroke-width="0.6" lengthAdjust="spacingAndGlyphs">濾板</text>
<text x="449.6" y="238.4" font-size="17.3" textLength="31.1" stroke="#1a1a1a" stroke-width="0.6" lengthAdjust="spacingAndGlyphs">濾布</text>
<text x="459.4" y="300.9" font-size="18.8" textLength="29.5" stroke="#1a1a1a" stroke-width="0.6" lengthAdjust="spacingAndGlyphs">濾液</text>
<text x="530.0" y="314.9" font-size="18.8" textLength="74.8" stroke="#1a1a1a" stroke-width="0.6" lengthAdjust="spacingAndGlyphs">壓濾機濾室</text>
<text x="100.0" y="258.4" font-size="19.0" textLength="45.7" stroke="#1a1a1a" stroke-width="0.6" lengthAdjust="spacingAndGlyphs">清水桶</text>
<text x="220.0" y="258.4" font-size="18.5" textLength="45.0" stroke="#1a1a1a" stroke-width="0.6" lengthAdjust="spacingAndGlyphs">反洗泵</text>
<text x="479.0" y="409.3" font-size="21.3" textLength="45.7" stroke="#1a1a1a" stroke-width="0.6" lengthAdjust="spacingAndGlyphs">儲氣桶</text>
<text x="575.0" y="439.3" font-size="20.1" textLength="43.5" stroke="#1a1a1a" stroke-width="0.6" lengthAdjust="spacingAndGlyphs">空壓機</text>
<text x="147.0" y="449.9" font-size="18.5" textLength="44.0" stroke="#1a1a1a" stroke-width="0.6" lengthAdjust="spacingAndGlyphs">泥漿池</text>
<!--/LABELS-->
</svg>
</body></html>
